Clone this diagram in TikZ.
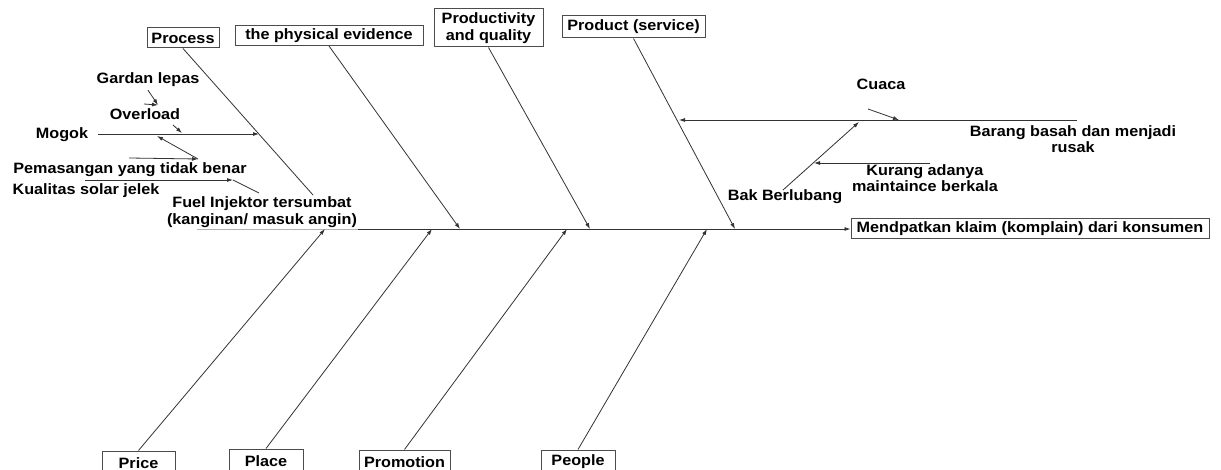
\documentclass[tikz,border=0pt]{standalone}
\usepackage{fontspec}
\setmainfont[FakeStretch=1.08]{Liberation Sans}
\usetikzlibrary{arrows.meta,positioning}

\begin{document}
\begin{tikzpicture}[x=1pt, y=-1pt,
    every node/.style={font=\bfseries\fontsize{15}{16.5}\selectfont, inner sep=3pt},
    catbox/.style={draw=black!70, line width=1pt, rectangle, align=center, minimum height=20pt},
    bone/.style={draw=black!80, line width=0.8pt},
    arr/.style={bone, -{Latex[length=6pt,width=4pt]}}]
    \useasboundingbox[fill=white] (0,0) rectangle (1221,470);

    % Effect box at the head of the spine
    \node[catbox, minimum width=358pt, inner sep=2pt] (effect) at (1030,229) {Mendpatkan klaim (komplain) dari konsumen};

    % Category boxes along the top
    \node[catbox, minimum width=72pt, inner sep=2pt] (process) at (183,38) {Process};
    \node[catbox, minimum width=188pt, inner sep=2pt] (physical) at (329,35.5) {the physical evidence};
    \node[catbox, minimum width=109pt, minimum height=38pt, inner sep=2pt] (productivity) at (488.5,28) {Productivity\\and quality};
    \node[catbox, minimum width=143pt, minimum height=22pt, inner sep=2pt] (product) at (633.5,27) {Product (service)};

    % Category boxes along the bottom
    \node[catbox, minimum width=73pt, minimum height=24pt] (price) at (138.5,463) {Price};
    \node[catbox, minimum width=74pt, minimum height=24pt] (place) at (266,461) {Place};
    \node[catbox, minimum width=91pt, minimum height=24pt] (promotion) at (404.5,462) {Promotion};
    \node[catbox, minimum width=74pt, minimum height=24pt] (people) at (578,462) {People};

    % Causes on the Process side
    \node (gardan) at (148,80) {Gardan lepas};
    \node (overload) at (145,114) {Overload};
    \node (mogok) at (62,135) {Mogok};
    \node (pemasangan) at (130,170) {Pemasangan yang tidak benar};
    \node (kualitas) at (86,191) {Kualitas solar jelek};
    \node[align=center] (fuel) at (262,212) {Fuel Injektor tersumbat\\(kanginan/ masuk angin)};

    % Causes on the Product side
    \node (cuaca) at (881,84) {Cuaca};
    \node[align=center] (barang) at (1073,139) {Barang basah dan menjadi\\rusak};
    \node[align=center] (kurang) at (925,178) {Kurang adanya\\maintaince berkala};
    \node (bak) at (785,197) {Bak Berlubang};

    % Points where the branches meet
    \coordinate (tail) at (358,229);
    \coordinate (s1) at (460,229);
    \coordinate (s2) at (590,229);
    \coordinate (s3) at (735,229);
    \coordinate (b1) at (325,229);
    \coordinate (b2) at (432,229);
    \coordinate (b3) at (567,229);
    \coordinate (b4) at (707,229);
    \coordinate (pend) at (313,195);
    \coordinate (m0) at (98,134);
    \coordinate (m1) at (259,134);
    \coordinate (m2) at (182,133);
    \coordinate (m3) at (157,136);
    \coordinate (g0) at (144,104);
    \coordinate (g1) at (158,105);
    \coordinate (o0) at (173,125);
    \coordinate (p0) at (129,158);
    \coordinate (p1) at (198,159);
    \coordinate (k0) at (85,180);
    \coordinate (k1) at (233,180);
    \coordinate (k2) at (259,193);
    \coordinate (r0) at (1077,120);
    \coordinate (r1) at (679,120);
    \coordinate (c0) at (868,109);
    \coordinate (c1) at (899,120);
    \coordinate (h0) at (783,190);
    \coordinate (h1) at (859,122);
    \coordinate (h2) at (930,163);
    \coordinate (h3) at (814,163);

    % Spine
    \draw[bone, draw=black!30] (197,229) -- (tail);
    \draw[arr] (tail) -- (effect.west);

    % Top bones
    \draw[bone] (process.south) -- (pend);
    \draw[arr] (physical.south) -- (s1);
    \draw[arr] (productivity.south) -- (s2);
    \draw[arr] (product.south) -- (s3);

    % Bottom bones
    \draw[arr] (price.north) -- (b1);
    \draw[arr] (place.north) -- (b2);
    \draw[arr] (promotion.north) -- (b3);
    \draw[arr] (people.north) -- (b4);

    % Sub causes under Process
    \draw[arr] (m0) -- (m1);
    \draw[arr] (gardan.south) -- (g1);
    \draw[arr] (g0) -- (g1);
    \draw[arr] (o0) -- (m2);
    \draw[arr] (p0) -- (p1);
    \draw[arr] (p1) -- (m3);
    \draw[arr] (k0) -- (k1);
    \draw[bone] (k1) -- (k2);

    % Sub causes under Product (service)
    \draw[arr] (r0) -- (r1);
    \draw[arr] (c0) -- (c1);
    \draw[arr] (h0) -- (h1);
    \draw[arr] (h2) -- (h3);
\end{tikzpicture}
\end{document}
